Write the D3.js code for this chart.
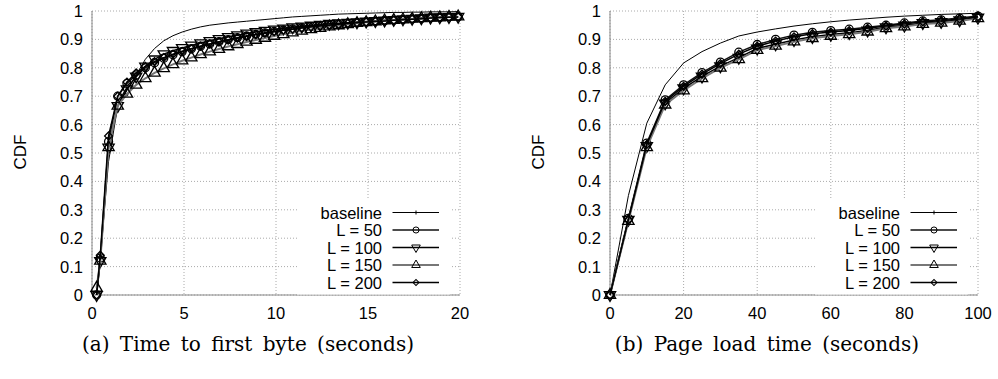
<!DOCTYPE html>
<meta charset="utf-8">
<style>
body { margin: 0; background: #fff; }
.tick-label { font-family: "Liberation Sans", Arial, sans-serif; font-size: 16.5px; fill: #000; }
.axis-title { font-family: "Liberation Sans", Arial, sans-serif; font-size: 17px; fill: #000; }
.legend-label { font-family: "Liberation Sans", Arial, sans-serif; font-size: 16.5px; fill: #000; }
.caption { font-family: "DejaVu Serif", serif; font-size: 20px; word-spacing: 4px; fill: #000; }
.grid { stroke: #aaa; stroke-width: 1; stroke-dasharray: 1,2; fill: none; }
.border { stroke: #888; stroke-width: 1; fill: none; }
</style>
<body>
<script src="https://d3js.org/d3.v7.min.js"></script>
<script>

// (a) time to first byte, seconds
var ttfbX = [0.25, 0.45, 0.9, 1.4, 1.9, 2.4, 2.9, 3.4, 3.9, 4.4, 4.9, 5.4, 5.9, 6.4, 6.9, 7.4, 7.9, 8.4, 8.9, 9.4, 9.9,
             10.4, 10.9, 11.4, 11.9, 12.4, 12.9, 13.4, 13.9, 14.4, 14.9, 15.4, 15.9, 16.4, 16.9, 17.4, 17.9, 18.4, 18.9, 19.4, 19.9];
var ttfbBaseline = [0, 0.13, 0.47, 0.665, 0.72, 0.775, 0.83, 0.868, 0.895, 0.913, 0.926, 0.936, 0.944, 0.95, 0.954, 0.958, 0.961, 0.964, 0.967, 0.97, 0.973,
                    0.976, 0.979, 0.981, 0.983, 0.985, 0.987, 0.989, 0.99, 0.991, 0.992, 0.993, 0.994, 0.995, 0.995, 0.996, 0.996, 0.997, 0.997, 0.997, 0.998];
var ttfbL50 = [0, 0.13, 0.54, 0.70, 0.745, 0.775, 0.80, 0.818, 0.834, 0.846, 0.857, 0.867, 0.876, 0.884, 0.892, 0.899, 0.906, 0.912, 0.918, 0.923, 0.928,
               0.933, 0.937, 0.941, 0.945, 0.948, 0.951, 0.954, 0.957, 0.959, 0.962, 0.964, 0.966, 0.968, 0.970, 0.972, 0.974, 0.976, 0.977, 0.979, 0.98];
var ttfbL100 = [0, 0.12, 0.52, 0.666, 0.725, 0.77, 0.805, 0.83, 0.848, 0.86, 0.87, 0.879, 0.887, 0.895, 0.902, 0.909, 0.915, 0.921, 0.926, 0.931, 0.935,
                0.939, 0.943, 0.946, 0.949, 0.952, 0.955, 0.957, 0.959, 0.961, 0.963, 0.965, 0.967, 0.969, 0.971, 0.973, 0.975, 0.977, 0.978, 0.979, 0.98];
var ttfbL150 = [0.025, 0.12, 0.52, 0.666, 0.708, 0.74, 0.763, 0.782, 0.798, 0.812, 0.825, 0.836, 0.847, 0.857, 0.866, 0.875, 0.883, 0.891, 0.898, 0.905, 0.912,
                0.918, 0.924, 0.930, 0.935, 0.940, 0.945, 0.949, 0.953, 0.957, 0.960, 0.963, 0.966, 0.968, 0.970, 0.972, 0.974, 0.976, 0.977, 0.979, 0.98];
var ttfbL200 = [0, 0.14, 0.56, 0.70, 0.75, 0.782, 0.805, 0.822, 0.836, 0.848, 0.858, 0.867, 0.876, 0.884, 0.891, 0.898, 0.905, 0.911, 0.917, 0.922, 0.927,
                0.932, 0.936, 0.940, 0.944, 0.947, 0.950, 0.953, 0.956, 0.959, 0.961, 0.963, 0.965, 0.967, 0.969, 0.971, 0.973, 0.975, 0.977, 0.978, 0.979];
var ttfbTicks = [0, 5, 10, 15, 20];

// (b) page load time, seconds
var plX = [0, 5, 10, 15, 20, 25, 30, 35, 40, 45, 50, 55, 60, 65, 70, 75, 80, 85, 90, 95, 100];
var plBaseline = [0, 0.35, 0.605, 0.74, 0.817, 0.857, 0.887, 0.912, 0.926, 0.937, 0.947, 0.955, 0.962, 0.968, 0.973, 0.978, 0.982, 0.985, 0.988, 0.99, 0.992];
var plL50  = [0, 0.27, 0.535, 0.687, 0.74, 0.783, 0.82, 0.855, 0.882, 0.9, 0.915, 0.925, 0.931, 0.936, 0.943, 0.95, 0.958, 0.965, 0.969, 0.975, 0.982];
var plL100 = [0, 0.265, 0.525, 0.675, 0.728, 0.77, 0.806, 0.836, 0.868, 0.883, 0.898, 0.909, 0.917, 0.923, 0.932, 0.943, 0.949, 0.958, 0.962, 0.968, 0.977];
var plL150 = [0, 0.26, 0.52, 0.67, 0.72, 0.763, 0.80, 0.83, 0.862, 0.877, 0.892, 0.904, 0.912, 0.918, 0.927, 0.939, 0.945, 0.954, 0.958, 0.965, 0.974];
var plL200 = [0, 0.265, 0.53, 0.682, 0.735, 0.778, 0.815, 0.848, 0.876, 0.894, 0.909, 0.92, 0.926, 0.931, 0.939, 0.947, 0.954, 0.962, 0.966, 0.972, 0.98];
var plTicks = [0, 20, 40, 60, 80, 100];

var yTicks = [0, 0.1, 0.2, 0.3, 0.4, 0.5, 0.6, 0.7, 0.8, 0.9, 1];
var seriesNames = ["baseline", "L = 50", "L = 100", "L = 150", "L = 200"];
var seriesMarks = [null, "circle", "down", "up", "diamond"];
var seriesColor = ["#000", "#111", "#000", "#777", "#000"];
var seriesWidth = [1, 1.5, 1.5, 2, 1.5];

var svg = d3.select("body").append("svg")
    .attr("width", 998)
    .attr("height", 379);

function marker(sel, kind, s, w) {
  // hollow gnuplot-style point
  var p;
  if (kind == "circle") p = d3.symbol().type(d3.symbolCircle).size(s * 4.2)();
  else if (kind == "up" || kind == "down") p = d3.symbol().type(d3.symbolTriangle).size(s * 4.6)();
  else p = d3.symbol().type(d3.symbolSquare).size(s * 2.6)();
  sel.append("path")
      .attr("d", p)
      .attr("transform", function(d) {
        var t = "translate(" + d[0] + "," + d[1] + ")";
        if (kind == "down") t += "rotate(180)";
        if (kind == "diamond") t += "rotate(45)";
        return t;
      })
      .attr("fill", "none")
      .attr("stroke", "#000")
      .attr("stroke-width", w);
}

function panel(left, xs, xmax, ticks, series, caption, captionX) {
  var x = d3.scaleLinear().domain([0, xmax]).range([left, left + 368]);
  var y = d3.scaleLinear().domain([0, 1]).range([295, 11]);
  var g = svg.append("g");

  g.selectAll(".gx").data(ticks).enter().append("line")
      .attr("class", "grid")
      .attr("x1", x).attr("x2", x)
      .attr("y1", 11).attr("y2", 295);
  g.selectAll(".gy").data(yTicks).enter().append("line")
      .attr("class", "grid")
      .attr("x1", left).attr("x2", left + 368)
      .attr("y1", y).attr("y2", y);

  g.append("path")
      .attr("class", "border")
      .attr("d", "M" + left + ",11V295H" + (left + 368));

  g.selectAll(".xl").data(ticks).enter().append("text")
      .attr("class", "tick-label")
      .attr("x", x)
      .attr("y", 318.5)
      .attr("text-anchor", "middle")
      .text(function(d) { return d; });
  g.selectAll(".yl").data(yTicks).enter().append("text")
      .attr("class", "tick-label")
      .attr("x", left - 9)
      .attr("y", function(d) { return y(d) + 6; })
      .attr("text-anchor", "end")
      .text(function(d) { return d; });

  g.append("text")
      .attr("class", "axis-title")
      .attr("transform", "translate(" + (left - 66) + ",152)rotate(-90)")
      .attr("text-anchor", "middle")
      .text("CDF");

  var line = d3.line()
      .x(function(d) { return d[0]; })
      .y(function(d) { return d[1]; });

  series.forEach(function(vals, i) {
    var pts = vals.map(function(v, j) { return [x(xs[j]), y(v)]; });
    g.append("path")
        .datum(pts)
        .attr("d", line)
        .attr("fill", "none")
        .attr("stroke", seriesColor[i])
        .attr("stroke-width", seriesWidth[i]);
    if (seriesMarks[i]) {
      var m = g.append("g").selectAll("g").data(pts).enter().append("g");
      marker(m, seriesMarks[i], 12, 1.3);
    }
  });

  // legend box hides the grid under it
  g.append("rect")
      .attr("x", left + 205)
      .attr("y", 200)
      .attr("width", 153)
      .attr("height", 94.5)
      .attr("fill", "#fff");

  var leg = g.selectAll(".leg").data(seriesNames).enter().append("g")
      .attr("transform", function(d, i) { return "translate(0," + (212.5 + i * 17.5) + ")"; });
  leg.append("text")
      .attr("class", "legend-label")
      .attr("x", left + 290)
      .attr("y", 6)
      .attr("text-anchor", "end")
      .text(function(d) { return d; });
  leg.append("line")
      .attr("x1", left + 300.5).attr("x2", left + 347)
      .attr("stroke", function(d, i) { return seriesColor[i]; })
      .attr("stroke-width", function(d, i) { return seriesWidth[i]; });
  leg.each(function(d, i) {
    var cx = left + 324;
    if (seriesMarks[i]) {
      marker(d3.select(this).append("g").datum([cx, 0]), seriesMarks[i], 7, 1);
    } else {
      d3.select(this).append("line")
          .attr("x1", cx).attr("x2", cx).attr("y1", -2).attr("y2", 2)
          .attr("stroke", "#000");
    }
  });

  svg.append("text")
      .attr("class", "caption")
      .attr("x", captionX)
      .attr("y", 351)
      .attr("text-anchor", "middle")
      .text(caption);
}

panel(92, ttfbX, 20, ttfbTicks, [ttfbBaseline, ttfbL50, ttfbL100, ttfbL150, ttfbL200],
      "(a)  Time to first byte (seconds)", 248);
panel(610, plX, 100, plTicks, [plBaseline, plL50, plL100, plL150, plL200],
      "(b)  Page load time (seconds)", 767);

</script>
